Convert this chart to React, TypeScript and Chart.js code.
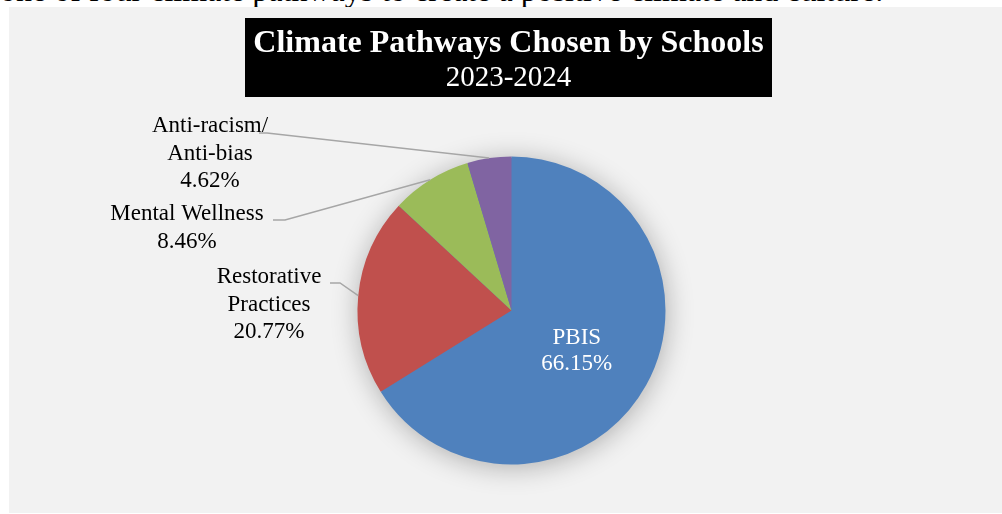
import React, { useEffect, useRef } from "react";
import { Chart, registerables } from "chart.js";

Chart.register(...registerables);

const INTRO_TEXT = "one of four climate pathways to create a positive climate and culture.";
const TITLE = "Climate Pathways Chosen by Schools";
const SUBTITLE = "2023-2024";
const CATEGORIES = ["PBIS", "Restorative Practices", "Mental Wellness", "Anti-racism/ Anti-bias"];
const LABEL_LINES = [["PBIS"], ["Restorative", "Practices"], ["Mental Wellness"], ["Anti-racism/", "Anti-bias"]];
const VALUES = [66.15, 20.77, 8.46, 4.62];
const COLORS = ["#4f81bd", "#c0504d", "#9bbb59", "#8064a2"];

const SERIF = '"Liberation Serif", "Times New Roman", serif';
const PANEL_BG = "#f2f2f2";
const CANVAS_W = 993;
const CANVAS_H = 506;

// Outside-label layout (canvas coords): text centre x, first line centre y, leader elbow
const OUTSIDE_LABELS: Record<number, { tx: number; ty: number; lx0: number; lx1: number; ly: number }> = {
  1: { tx: 260, ty: 270, lx0: 321, lx1: 331, ly: 276 },
  2: { tx: 178, ty: 207, lx0: 264, lx1: 276, ly: 213 },
  3: { tx: 201, ty: 119, lx0: 250, lx1: 258, ly: 126 },
};
const LINE_H = 27.5;

const titlePlugin = {
  id: "titleBox",
  afterDraw(chart: any) {
    const ctx = chart.ctx;
    ctx.save();
    ctx.fillStyle = "#000";
    ctx.fillRect(236, 11, 527, 79);
    ctx.fillStyle = "#fff";
    ctx.textAlign = "center";
    ctx.textBaseline = "alphabetic";
    ctx.font = `bold 32px ${SERIF}`;
    ctx.fillText(TITLE, 499.5, 45);
    ctx.font = `29px ${SERIF}`;
    ctx.fillText(SUBTITLE, 499.5, 79);
    ctx.restore();
  },
};

const shadowPlugin = {
  id: "pieShadow",
  beforeDatasetsDraw(chart: any) {
    const meta = chart.getDatasetMeta(0);
    const arc = meta.data[0];
    if (!arc) return;
    const ctx = chart.ctx;
    ctx.save();
    ctx.shadowColor = "rgba(0,0,0,0.3)";
    ctx.shadowBlur = 28;
    ctx.shadowOffsetX = 1;
    ctx.shadowOffsetY = 3;
    ctx.fillStyle = COLORS[0];
    ctx.beginPath();
    ctx.arc(arc.x, arc.y, arc.outerRadius - 1, 0, Math.PI * 2);
    ctx.fill();
    ctx.restore();
  },
};

const labelPlugin = {
  id: "sliceLabels",
  afterDatasetsDraw(chart: any) {
    const meta = chart.getDatasetMeta(0);
    const ctx = chart.ctx;
    const data = chart.data.datasets[0].data as number[];
    ctx.save();
    ctx.font = `23px ${SERIF}`;
    ctx.textAlign = "center";
    ctx.textBaseline = "middle";
    meta.data.forEach((arc: any, i: number) => {
      const lines = [...LABEL_LINES[i], `${data[i].toFixed(2)}%`];
      const layout = OUTSIDE_LABELS[i];
      if (!layout) {
        const p = arc.tooltipPosition();
        ctx.fillStyle = "#fff";
        const startY = p.y + 3 - ((lines.length - 1) * 26) / 2;
        lines.forEach((t, k) => ctx.fillText(t, p.x - 2, startY + k * 26));
        return;
      }
      const mid = (arc.startAngle + arc.endAngle) / 2;
      const ex = arc.x + Math.cos(mid) * arc.outerRadius;
      const ey = arc.y + Math.sin(mid) * arc.outerRadius;
      ctx.strokeStyle = "#a6a6a6";
      ctx.lineWidth = 1.5;
      ctx.beginPath();
      ctx.moveTo(layout.lx0, layout.ly);
      ctx.lineTo(layout.lx1, layout.ly);
      ctx.lineTo(ex, ey);
      ctx.stroke();
      ctx.fillStyle = "#000";
      lines.forEach((t, k) => ctx.fillText(t, layout.tx, layout.ty + k * LINE_H));
    });
    ctx.restore();
  },
};

export default function App() {
  const ref = useRef<HTMLCanvasElement | null>(null);
  useEffect(() => {
    if (!ref.current) return;
    const chart = new Chart(ref.current, {
      type: "pie",
      data: {
        labels: CATEGORIES,
        datasets: [
          {
            data: VALUES,
            backgroundColor: COLORS,
            borderWidth: 0,
            hoverOffset: 0,
            offset: 0,
          } as any,
        ],
      },
      options: {
        responsive: false,
        animation: false,
        events: [],
        layout: { padding: { left: 348.5, right: 336.5, top: 149.5, bottom: 48.5 } },
        plugins: {
          legend: { display: false },
          tooltip: { enabled: false },
          title: { display: false },
        },
      },
      plugins: [shadowPlugin, labelPlugin, titlePlugin],
    });
    return () => chart.destroy();
  }, []);

  return (
    <>
      <div
        style={{
          position: "absolute",
          left: 0,
          top: -28,
          fontFamily: SERIF,
          fontSize: 32,
          lineHeight: "36px",
          color: "#000",
          whiteSpace: "nowrap",
        }}
      >
        {INTRO_TEXT}
      </div>
      <div
        style={{
          position: "absolute",
          left: 9,
          top: 7,
          width: CANVAS_W,
          height: CANVAS_H,
          background: PANEL_BG,
        }}
      >
        <canvas ref={ref} width={CANVAS_W} height={CANVAS_H} style={{ display: "block" }} />
      </div>
    </>
  );
}
